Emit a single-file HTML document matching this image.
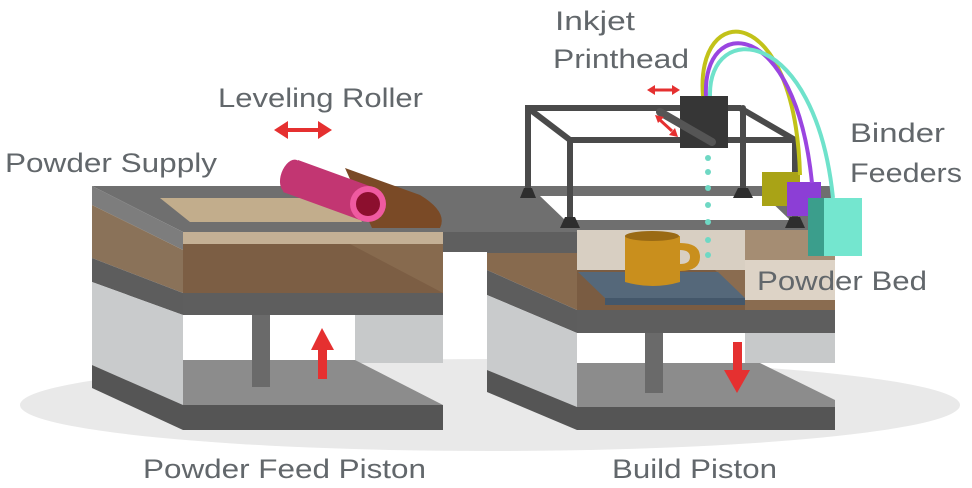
<!DOCTYPE html>
<html><head><meta charset="utf-8"><style>
html,body{margin:0;padding:0;background:#fff;width:972px;height:488px;overflow:hidden}
svg{display:block}
text{font-family:"Liberation Sans",sans-serif;fill:#62676b;font-size:27px}
</style></head><body>
<svg width="972" height="488" viewBox="0 0 972 488" xmlns="http://www.w3.org/2000/svg">
<ellipse cx="490" cy="405" rx="470" ry="46" fill="#e9e9e9"/>

<!-- LEFT BOX -->
<polygon points="92,186 450,186 450,232 183,232" fill="#6f6f6f"/>
<polygon points="160,198 350,198 362,222 190,222" fill="#c2ad8c"/>
<polygon points="92,186 183,232 183,250 92,205" fill="#7d7d7d"/>
<polygon points="92,205 183,250 183,293 92,258" fill="#8a7259"/>
<polygon points="92,258 183,293 183,315 92,282" fill="#5d5d5d"/>
<polygon points="92,282 183,315 183,405 92,365" fill="#c9cbcc"/>
<polygon points="92,365 183,405 183,430 92,388" fill="#555"/>
<rect x="183" y="232" width="260" height="12" fill="#c4b095"/>
<rect x="183" y="244" width="260" height="49" fill="#876a4e"/>
<polygon points="183,244 350,244 443,293 183,293" fill="#7c5e44"/>
<rect x="183" y="293" width="260" height="22" fill="#5e5e5e"/>
<rect x="183" y="315" width="260" height="48" fill="#fff"/>
<rect x="355" y="315" width="88" height="48" fill="#c7c9ca"/>
<polygon points="183,360 355,360 443,405 183,405" fill="#8c8c8c"/>
<rect x="183" y="405" width="260" height="25" fill="#555"/>
<rect x="252" y="315" width="18" height="72" fill="#6a6a6a"/>
<rect x="318" y="345" width="9" height="34" fill="#e53030"/>
<polygon points="311,350 322,328 334,350" fill="#e53030"/>

<rect x="443" y="232" width="44" height="20" fill="#5f5f5f"/>
<polygon points="443,186 560,186 560,232 443,232" fill="#6f6f6f"/>

<!-- RIGHT BOX -->
<polygon points="487,186 830,186 835,232 577,232 487,232" fill="#6f6f6f"/>
<polygon points="540,196 765,196 790,220 565,220" fill="#fff"/>
<polygon points="487,232 577,232 577,253 487,253" fill="#5f5f5f"/>
<polygon points="487,253 577,253 577,310 487,270" fill="#876a4e"/>
<polygon points="487,270 577,310 577,333 487,295" fill="#5d5d5d"/>
<polygon points="487,295 577,333 577,407 487,370" fill="#c9cbcc"/>
<polygon points="487,370 577,407 577,430 487,392" fill="#555"/>
<rect x="577" y="230" width="258" height="40" fill="#d8cfc2"/>
<rect x="745" y="230" width="90" height="30" fill="#a58d73"/>
<rect x="577" y="270" width="258" height="40" fill="#8a6c50"/>
<rect x="745" y="260" width="90" height="40" fill="#ddd3c6"/>
<polygon points="577,270 715,270 745,300 745,310 577,310" fill="#7a5c42"/>
<rect x="577" y="310" width="258" height="23" fill="#5e5e5e"/>
<rect x="577" y="333" width="258" height="30" fill="#fff"/>
<rect x="745" y="333" width="90" height="30" fill="#c7c9ca"/>
<polygon points="577,363 760,363 835,400 835,407 577,407" fill="#8c8c8c"/>
<rect x="577" y="407" width="258" height="23" fill="#555"/>
<rect x="645" y="333" width="18" height="60" fill="#6a6a6a"/>
<rect x="733" y="342" width="9" height="30" fill="#e53030"/>
<polygon points="724,370 737,393 750,370" fill="#e53030"/>
<polygon points="578,272 718,272 745,298 605,298" fill="#55687a"/>
<polygon points="605,298 745,298 745,305 605,305" fill="#44576a"/>
<path d="M625,236 h55 v46 q-27,8 -55,0 z" fill="#c98f1d"/>
<ellipse cx="652" cy="236" rx="27" ry="5" fill="#9a6a14"/>
<path d="M680,243 q20,0 20,14 q0,14 -20,14 v-7 q10,0 10,-7 q0,-7 -10,-7z" fill="#c98f1d"/>

<!-- FRAME -->
<g stroke="#4a4a4a" stroke-width="6" fill="none" stroke-linecap="round">
<polyline points="528,190 528,108 740,108 795,140 795,220"/>
<line x1="528" y1="108" x2="570" y2="140"/>
<line x1="570" y1="140" x2="795" y2="140"/>
<line x1="570" y1="140" x2="570" y2="220"/>
<line x1="743" y1="108" x2="743" y2="190"/>
</g>
<g fill="#2e2e2e">
<polygon points="520,198 536,198 532,188 524,188"/>
<polygon points="560,228 580,228 575,217 565,217"/>
<polygon points="733,198 753,198 748,188 738,188"/>
<polygon points="785,228 805,228 800,217 790,217"/>
</g>
<rect x="680" y="96" width="48" height="52" fill="#363636"/>
<line x1="660" y1="112" x2="712" y2="142" stroke="#555" stroke-width="8" stroke-linecap="round"/>
<g fill="#e53030" stroke="#e53030">
<line x1="652" y1="90" x2="675" y2="90" stroke-width="3"/>
<polygon points="647,90 655,85 655,95" stroke="none"/>
<polygon points="680,90 672,85 672,95" stroke="none"/>
<line x1="660" y1="120" x2="672" y2="131" stroke-width="3"/>
<polygon points="655,115 664,117 658,123" stroke="none"/>
<polygon points="678,137 669,135 675,128" stroke="none"/>
</g>
<g fill="#6fd8c4">
<circle cx="708" cy="158" r="3"/><circle cx="708" cy="172" r="3"/><circle cx="708" cy="188" r="3"/>
<circle cx="708" cy="205" r="3"/><circle cx="708" cy="222" r="3"/><circle cx="708" cy="240" r="3"/><circle cx="708" cy="255" r="3"/>
</g>
<rect x="762" y="172" width="38" height="34" fill="#a9a316"/>
<rect x="787" y="182" width="34" height="34" fill="#8c3ed6"/>
<rect x="808" y="198" width="54" height="58" fill="#74e6cf"/>
<rect x="808" y="198" width="16" height="58" fill="#3b9e8c"/>
<g fill="none" stroke-width="4">
<path d="M703,96 C695,0 795,0 800,175" stroke="#c2c219"/>
<path d="M706,96 C702,15 795,15 812,183" stroke="#9a45e0"/>
<path d="M710,96 C708,20 815,25 833,198" stroke="#6fe2cb"/>
</g>

<!-- roller -->
<path d="M345,168 L420,195 Q448,212 440,228 L372,228 Z" fill="#7a4a26"/>
<polygon points="298,160 375,188 360,220 283,192" fill="#c23672"/>
<ellipse cx="291" cy="176" rx="10" ry="17" transform="rotate(20 291 176)" fill="#c23672"/>
<circle cx="368" cy="204" r="18" fill="#ef5aa0"/>
<circle cx="368" cy="204" r="12" fill="#8c0f2e"/>
<line x1="284" y1="130" x2="322" y2="130" stroke="#e53030" stroke-width="4"/>
<polygon points="274,130 288,121 288,139" fill="#e53030"/>
<polygon points="332,130 318,121 318,139" fill="#e53030"/>

<text x="218" y="107" textLength="205" lengthAdjust="spacingAndGlyphs">Leveling Roller</text>
<text x="5" y="172" textLength="212" lengthAdjust="spacingAndGlyphs">Powder Supply</text>
<text x="555" y="30" textLength="80" lengthAdjust="spacingAndGlyphs">Inkjet</text>
<text x="553" y="68" textLength="136" lengthAdjust="spacingAndGlyphs">Printhead</text>
<text x="850" y="142" textLength="95" lengthAdjust="spacingAndGlyphs">Binder</text>
<text x="850" y="182" textLength="112" lengthAdjust="spacingAndGlyphs">Feeders</text>
<text x="757" y="290" textLength="170" lengthAdjust="spacingAndGlyphs">Powder Bed</text>
<text x="143" y="478" textLength="283" lengthAdjust="spacingAndGlyphs">Powder Feed Piston</text>
<text x="612" y="478" textLength="165" lengthAdjust="spacingAndGlyphs">Build Piston</text>
</svg>
</body></html>
